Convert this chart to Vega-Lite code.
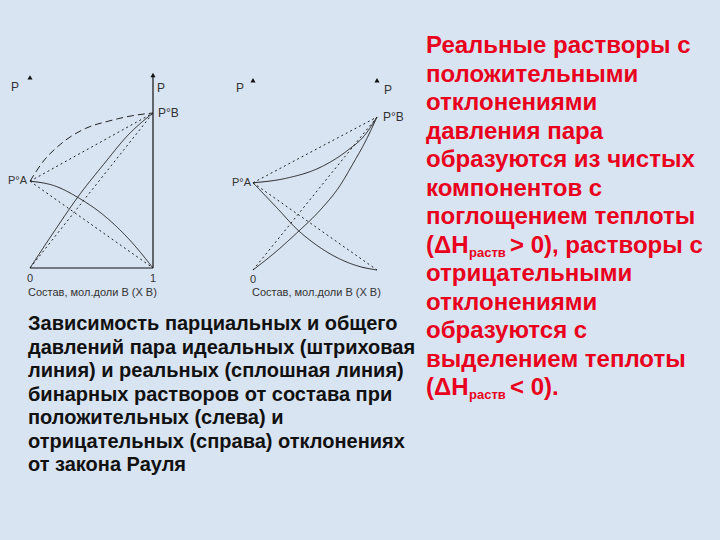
{
  "$schema": "https://vega.github.io/schema/vega-lite/v6.json",
  "width": 720,
  "height": 540,
  "autosize": "none",
  "padding": 0,
  "background": "#d9e4f2",
  "config": {"view": {"stroke": null}, "text": {"font": "Liberation Sans"}},
  "datasets": {
    "leftCurves": [
      {"curve": "pA ideal", "type": "ideal", "x": 0, "p": 0.56},
      {"curve": "pA ideal", "type": "ideal", "x": 1, "p": 0},
      {"curve": "pB ideal", "type": "ideal", "x": 0, "p": 0},
      {"curve": "pB ideal", "type": "ideal", "x": 1, "p": 1},
      {"curve": "P ideal", "type": "ideal", "x": 0, "p": 0.56},
      {"curve": "P ideal", "type": "ideal", "x": 1, "p": 1},
      {"curve": "pA real", "type": "real", "x": 0, "p": 0.56},
      {"curve": "pA real", "type": "real", "x": 0.2, "p": 0.53},
      {"curve": "pA real", "type": "real", "x": 0.4, "p": 0.45},
      {"curve": "pA real", "type": "real", "x": 0.6, "p": 0.34},
      {"curve": "pA real", "type": "real", "x": 0.8, "p": 0.19},
      {"curve": "pA real", "type": "real", "x": 1, "p": 0},
      {"curve": "pB real", "type": "real", "x": 0, "p": 0},
      {"curve": "pB real", "type": "real", "x": 0.2, "p": 0.24},
      {"curve": "pB real", "type": "real", "x": 0.4, "p": 0.47},
      {"curve": "pB real", "type": "real", "x": 0.6, "p": 0.67},
      {"curve": "pB real", "type": "real", "x": 0.8, "p": 0.86},
      {"curve": "pB real", "type": "real", "x": 1, "p": 1},
      {"curve": "P real", "type": "real total", "x": 0, "p": 0.56},
      {"curve": "P real", "type": "real total", "x": 0.1, "p": 0.68},
      {"curve": "P real", "type": "real total", "x": 0.25, "p": 0.8},
      {"curve": "P real", "type": "real total", "x": 0.45, "p": 0.9},
      {"curve": "P real", "type": "real total", "x": 0.65, "p": 0.95},
      {"curve": "P real", "type": "real total", "x": 0.85, "p": 0.985},
      {"curve": "P real", "type": "real total", "x": 1, "p": 1}
    ],
    "rightCurves": [
      {"curve": "pA ideal", "type": "ideal", "x": 0, "p": 0.57},
      {"curve": "pA ideal", "type": "ideal", "x": 1, "p": 0},
      {"curve": "pB ideal", "type": "ideal", "x": 0, "p": 0},
      {"curve": "pB ideal", "type": "ideal", "x": 1, "p": 1},
      {"curve": "P ideal", "type": "ideal", "x": 0, "p": 0.57},
      {"curve": "P ideal", "type": "ideal", "x": 1, "p": 1},
      {"curve": "pA real", "type": "real", "x": 0, "p": 0.57},
      {"curve": "pA real", "type": "real", "x": 0.2, "p": 0.4},
      {"curve": "pA real", "type": "real", "x": 0.35, "p": 0.27},
      {"curve": "pA real", "type": "real", "x": 0.5, "p": 0.17},
      {"curve": "pA real", "type": "real", "x": 0.68, "p": 0.08},
      {"curve": "pA real", "type": "real", "x": 0.85, "p": 0.025},
      {"curve": "pA real", "type": "real", "x": 1, "p": 0},
      {"curve": "pB real", "type": "real", "x": 0, "p": 0},
      {"curve": "pB real", "type": "real", "x": 0.2, "p": 0.13},
      {"curve": "pB real", "type": "real", "x": 0.35, "p": 0.24},
      {"curve": "pB real", "type": "real", "x": 0.54, "p": 0.39},
      {"curve": "pB real", "type": "real", "x": 0.7, "p": 0.55},
      {"curve": "pB real", "type": "real", "x": 0.81, "p": 0.7},
      {"curve": "pB real", "type": "real", "x": 0.9, "p": 0.83},
      {"curve": "pB real", "type": "real", "x": 1, "p": 1},
      {"curve": "P real", "type": "real", "x": 0, "p": 0.57},
      {"curve": "P real", "type": "real", "x": 0.27, "p": 0.6},
      {"curve": "P real", "type": "real", "x": 0.54, "p": 0.67},
      {"curve": "P real", "type": "real", "x": 0.76, "p": 0.78},
      {"curve": "P real", "type": "real", "x": 0.9, "p": 0.88},
      {"curve": "P real", "type": "real", "x": 1, "p": 1}
    ],
    "leftText": [
      {"line": 0, "text": "Зависимость парциальных и общего"},
      {"line": 1, "text": "давлений пара идеальных (штриховая"},
      {"line": 2, "text": "линия) и реальных (сплошная линия)"},
      {"line": 3, "text": "бинарных растворов от состава при"},
      {"line": 4, "text": "положительных (слева) и"},
      {"line": 5, "text": "отрицательных (справа) отклонениях"},
      {"line": 6, "text": "от закона Рауля"}
    ],
    "rightText": [
      {"line": 0, "text": "Реальные растворы с"},
      {"line": 1, "text": "положительными"},
      {"line": 2, "text": "отклонениями"},
      {"line": 3, "text": "давления пара"},
      {"line": 4, "text": "образуются из чистых"},
      {"line": 5, "text": "компонентов с"},
      {"line": 6, "text": "поглощением теплоты"},
      {"line": 7, "text": "(ΔH"},
      {"line": 8, "text": "отрицательными"},
      {"line": 9, "text": "отклонениями"},
      {"line": 10, "text": "образуются с"},
      {"line": 11, "text": "выделением теплоты"},
      {"line": 12, "text": "(ΔH"}
    ],
    "rightSub": [
      {"line": 7, "text": "раств"},
      {"line": 12, "text": "раств"}
    ],
    "rightTail": [
      {"line": 7, "text": "> 0), растворы с"},
      {"line": 12, "text": "< 0)."}
    ]
  },
  "layer": [
    {
      "encoding": {
        "x": {"field": "x", "type": "quantitative", "scale": {"domain": [0, 1], "range": [30, 153], "nice": false, "zero": false}, "axis": null},
        "y": {"field": "p", "type": "quantitative", "scale": {"domain": [0, 1], "range": [268, 113], "nice": false, "zero": false}, "axis": null}
      },
      "layer": [
        {
          "data": {"values": [{"x": 1, "p": 0, "x2": 1, "p2": 1.24}, {"x": 0, "p": 0, "x2": 1, "p2": 0}]},
          "mark": {"type": "rule", "color": "#111", "strokeWidth": 1.2},
          "encoding": {"x2": {"field": "x2"}, "y2": {"field": "p2"}}
        },
        {
          "data": {"name": "leftCurves"},
          "mark": {"type": "line", "interpolate": "monotone", "color": "#222", "strokeWidth": 1},
          "encoding": {
            "detail": {"field": "curve"},
            "strokeDash": {"field": "type", "type": "nominal", "scale": {"domain": ["real", "ideal", "real total"], "range": [[1, 0], [2, 3], [7, 4]]}, "legend": null}
          }
        },
        {
          "data": {"values": [{"x": 0, "p": 1.23}, {"x": 1, "p": 1.245}]},
          "mark": {"type": "point", "shape": "triangle-up", "filled": true, "color": "#111", "size": 26, "opacity": 1}
        },
        {"data": {"values": [{"x": 0, "p": 1.23, "label": "P"}]}, "mark": {"type": "text", "fontSize": 12, "color": "#333", "dx": -15, "dy": 10, "baseline": "middle"}, "encoding": {"text": {"field": "label"}}},
        {"data": {"values": [{"x": 1, "p": 1.245, "label": "P"}]}, "mark": {"type": "text", "fontSize": 12, "color": "#333", "dx": 8, "dy": 13, "baseline": "middle"}, "encoding": {"text": {"field": "label"}}},
        {"data": {"values": [{"x": 1, "p": 1, "label": "P°B"}]}, "mark": {"type": "text", "fontSize": 12, "color": "#333", "dx": 5, "align": "left", "baseline": "middle"}, "encoding": {"text": {"field": "label"}}},
        {"data": {"values": [{"x": 0, "p": 0.56, "label": "P°A"}]}, "mark": {"type": "text", "fontSize": 11, "color": "#333", "dx": -3, "align": "right", "baseline": "middle"}, "encoding": {"text": {"field": "label"}}},
        {"data": {"values": [{"x": 0, "p": 0, "label": "0"}, {"x": 1, "p": 0, "label": "1"}]}, "mark": {"type": "text", "fontSize": 11, "color": "#333", "dy": 11, "baseline": "middle"}, "encoding": {"text": {"field": "label"}}},
        {"data": {"values": [{"x": 0, "p": 0, "label": "Состав, мол.доли B (Х B)"}]}, "mark": {"type": "text", "fontSize": 11, "color": "#333", "dx": -2, "dy": 25, "align": "left", "baseline": "middle"}, "encoding": {"text": {"field": "label"}}}
      ]
    },
    {
      "encoding": {
        "x": {"field": "x", "type": "quantitative", "scale": {"domain": [0, 1], "range": [253, 377], "nice": false, "zero": false}, "axis": null},
        "y": {"field": "p", "type": "quantitative", "scale": {"domain": [0, 1], "range": [270, 117], "nice": false, "zero": false}, "axis": null}
      },
      "layer": [
        {
          "data": {"name": "rightCurves"},
          "mark": {"type": "line", "interpolate": "monotone", "color": "#222", "strokeWidth": 1},
          "encoding": {
            "detail": {"field": "curve"},
            "strokeDash": {"field": "type", "type": "nominal", "scale": {"domain": ["real", "ideal"], "range": [[1, 0], [2, 3]]}, "legend": null}
          }
        },
        {
          "data": {"values": [{"x": 0, "p": 1.24}, {"x": 1, "p": 1.24}]},
          "mark": {"type": "point", "shape": "triangle-up", "filled": true, "color": "#111", "size": 26, "opacity": 1}
        },
        {"data": {"values": [{"x": 0, "p": 1.24, "label": "P"}]}, "mark": {"type": "text", "fontSize": 12, "color": "#333", "dx": -13, "dy": 8, "baseline": "middle"}, "encoding": {"text": {"field": "label"}}},
        {"data": {"values": [{"x": 1, "p": 1.24, "label": "P"}]}, "mark": {"type": "text", "fontSize": 12, "color": "#333", "dx": 11, "dy": 10, "baseline": "middle"}, "encoding": {"text": {"field": "label"}}},
        {"data": {"values": [{"x": 1, "p": 1, "label": "P°B"}]}, "mark": {"type": "text", "fontSize": 12, "color": "#333", "dx": 6, "align": "left", "baseline": "middle"}, "encoding": {"text": {"field": "label"}}},
        {"data": {"values": [{"x": 0, "p": 0.57, "label": "P°A"}]}, "mark": {"type": "text", "fontSize": 11, "color": "#333", "dx": -2, "align": "right", "baseline": "middle"}, "encoding": {"text": {"field": "label"}}},
        {"data": {"values": [{"x": 0, "p": 0, "label": "0"}]}, "mark": {"type": "text", "fontSize": 11, "color": "#333", "dy": 10, "baseline": "middle"}, "encoding": {"text": {"field": "label"}}},
        {"data": {"values": [{"x": 0, "p": 0, "label": "Состав, мол.доли B (Х B)"}]}, "mark": {"type": "text", "fontSize": 11, "color": "#333", "dx": -1, "dy": 23, "align": "left", "baseline": "middle"}, "encoding": {"text": {"field": "label"}}}
      ]
    },
    {
      "data": {"name": "leftText"},
      "mark": {"type": "text", "fontSize": 20, "fontWeight": "bold", "color": "#111", "align": "left", "baseline": "alphabetic"},
      "encoding": {
        "x": {"datum": 0, "type": "quantitative", "scale": {"domain": [0, 1], "range": [28, 400], "nice": false, "zero": false}, "axis": null},
        "y": {"field": "line", "type": "quantitative", "scale": {"domain": [0, 6], "range": [330, 471], "nice": false, "zero": false}, "axis": null},
        "text": {"field": "text"}
      }
    },
    {
      "encoding": {
        "x": {"datum": 0, "type": "quantitative", "scale": {"domain": [0, 1], "range": [426, 716], "nice": false, "zero": false}, "axis": null},
        "y": {"field": "line", "type": "quantitative", "scale": {"domain": [0, 12], "range": [53, 395], "nice": false, "zero": false}, "axis": null},
        "text": {"field": "text"}
      },
      "layer": [
        {"data": {"name": "rightText"}, "mark": {"type": "text", "fontSize": 24, "fontWeight": "bold", "color": "#e8001c", "align": "left", "baseline": "alphabetic"}},
        {"data": {"name": "rightSub"}, "mark": {"type": "text", "fontSize": 13, "fontWeight": "bold", "color": "#e8001c", "align": "left", "baseline": "alphabetic", "dx": 43, "dy": 4}},
        {"data": {"name": "rightTail"}, "mark": {"type": "text", "fontSize": 24, "fontWeight": "bold", "color": "#e8001c", "align": "left", "baseline": "alphabetic", "dx": 84}}
      ]
    }
  ],
  "resolve": {"scale": {"x": "independent", "y": "independent", "strokeDash": "independent"}}
}
